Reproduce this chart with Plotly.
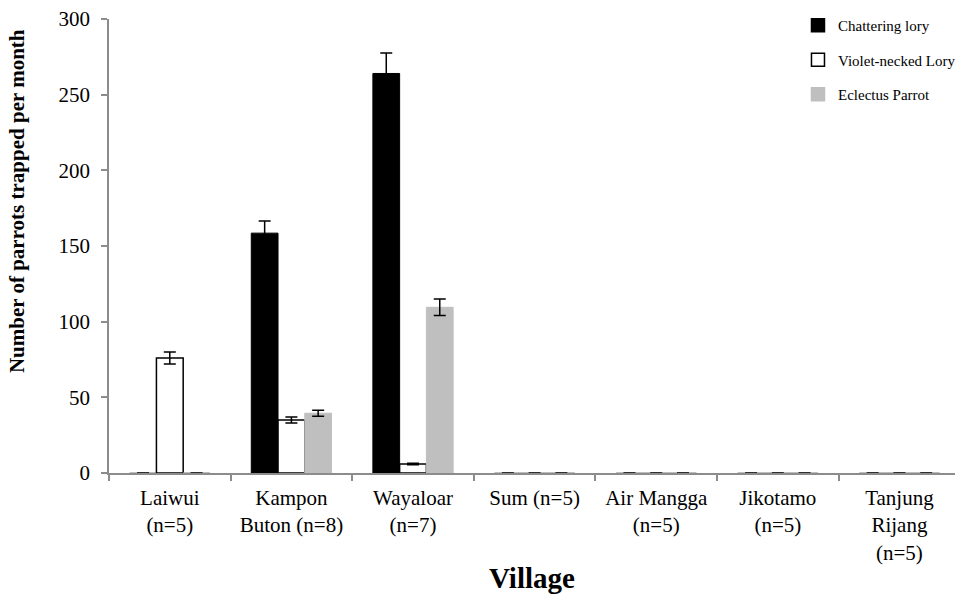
import plotly.graph_objects as go

villages = ["Laiwui<br>(n=5)", "Kampon<br>Buton (n=8)", "Wayaloar<br>(n=7)", "Sum (n=5)",
            "Air Mangga<br>(n=5)", "Jikotamo<br>(n=5)", "Tanjung<br>Rijang<br>(n=5)"]

chattering = [0, 158.5, 264, 0, 0, 0, 0]
chattering_err = [0, 8, 13.5, 0, 0, 0, 0]

violet = [76, 35, 6, 0, 0, 0, 0]
violet_err = [4, 2, 0.5, 0, 0, 0, 0]

eclectus = [0, 39.5, 109.5, 0, 0, 0, 0]
eclectus_err = [0, 2, 5.5, 0, 0, 0, 0]

serif = "Liberation Serif, Times New Roman, serif"
axis_grey = "#8c8c8c"


def err(vals, means):
    # no whisker where the mean is zero
    arr = [e if m > 0 else None for e, m in zip(vals, means)]
    return dict(type="data", array=arr, visible=True, color="black", thickness=1.5, width=6)


def outline(means, colour):
    # zero-height bars show as a faint grey dash on the baseline
    return [colour if m > 0 else "#a6a6a6" for m in means]


series = [
    ("Chattering lory", chattering, chattering_err, "black", "black", 1),
    ("Violet-necked Lory", violet, violet_err, "white", "black", 1.5),
    ("Eclectus Parrot", eclectus, eclectus_err, "#bfbfbf", "#bfbfbf", 1),
]

fig = go.Figure()
for name, vals, errs, fill, edge, lw in series:
    fig.add_trace(go.Bar(x=villages, y=vals, name=name, showlegend=False,
                         marker=dict(color=fill, line=dict(color=outline(vals, edge), width=lw)),
                         error_y=err(errs, vals)))

# legend keys drawn as larger square swatches
for i, (name, vals, errs, fill, edge, lw) in enumerate(series):
    fig.add_trace(go.Scatter(x=[None], y=[None], mode="markers", name=name,
                             legendgroup=f"g{i}",
                             marker=dict(symbol="square", size=13, color=fill,
                                         line=dict(color="black" if fill == "white" else fill,
                                                   width=1.5))))

fig.update_layout(
    width=955, height=597,
    margin=dict(l=109, r=0, t=19, b=124, autoexpand=False),
    plot_bgcolor="white", paper_bgcolor="white",
    barmode="group", bargap=0.34, bargroupgap=0,
    font=dict(family=serif, size=17, color="black"),
    showlegend=True,
    legend=dict(x=0.8144, y=1.022, xanchor="left", yanchor="top",
                font=dict(family=serif, size=15), tracegroupgap=12,
                itemwidth=30, bgcolor="rgba(0,0,0,0)"),
    annotations=[
        dict(text="<b>Village</b>", xref="paper", yref="paper", x=0.5, y=-0.231,
             xanchor="center", yanchor="middle", showarrow=False,
             font=dict(family=serif, size=29)),
        dict(text="<b>Number of parrots trapped per month</b>", xref="paper", yref="paper",
             x=-0.1087, y=0.599, xanchor="center", yanchor="middle", textangle=-90,
             showarrow=False, font=dict(family=serif, size=21)),
    ],
)
fig.update_xaxes(
    type="category", range=[-0.5, 6.457], tickson="boundaries",
    showline=True, linecolor=axis_grey, linewidth=1.5,
    ticks="outside", ticklen=6, tickcolor=axis_grey, tickwidth=1.5,
    tickfont=dict(family=serif, size=21), tickangle=0, ticklabelstandoff=5,
    showgrid=False,
)
fig.update_yaxes(
    range=[0, 300], dtick=50,
    showline=True, linecolor=axis_grey, linewidth=1.5,
    ticks="outside", ticklen=6, tickcolor=axis_grey, tickwidth=1.5,
    tickfont=dict(family=serif, size=21), ticklabelstandoff=7,
    showgrid=False, zeroline=False,
)

fig.write_html("out.html")
